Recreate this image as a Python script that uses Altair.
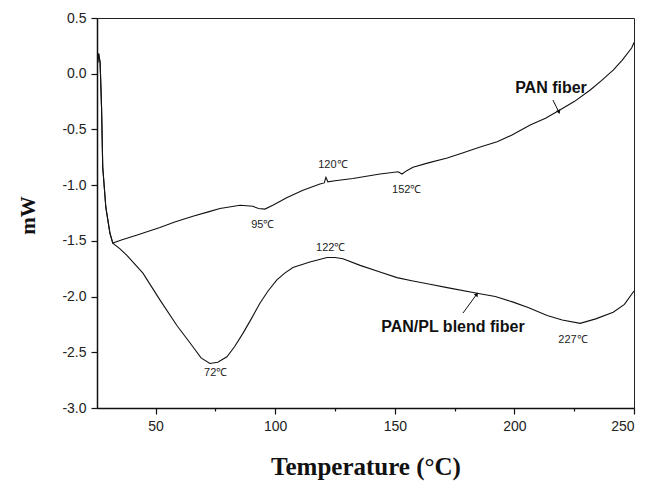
import altair as alt
import pandas as pd

# ---- PAN fiber curve (Temperature °C, mW) ----
pan_x = [25.8, 26.2, 26.8, 27.4, 27.9, 29.2, 30.9, 32.1, 36, 42, 51.8, 58, 65.6, 72, 76.9,
         85.3, 90.7, 93, 95.7, 99, 105, 111.6, 118.7, 120.5, 121.2, 122, 125, 132.5,
         143.8, 151.4, 153, 155, 157.6, 164, 171.9, 178.6, 185.7, 192.8, 199, 206.6,
         213, 219, 225, 231.7, 236.5, 241.3, 245, 249, 250]
pan_y = [0.10, 0.18, 0.10, -0.30, -0.84, -1.20, -1.43, -1.52, -1.49, -1.45, -1.38, -1.33,
         -1.28, -1.24, -1.21, -1.18, -1.19, -1.21, -1.215, -1.18, -1.11, -1.045, -0.99,
         -0.98, -0.93, -0.97, -0.96, -0.94, -0.90, -0.88, -0.90, -0.87, -0.84, -0.80,
         -0.757, -0.71, -0.658, -0.61, -0.55, -0.46, -0.40, -0.326, -0.25, -0.146,
         -0.06, 0.033, 0.12, 0.23, 0.28]

# ---- PAN/PL blend fiber curve ----
blend_x = [25.8, 26.2, 26.8, 27.4, 27.9, 29.2, 30.9, 32.1, 35, 38, 44.7, 51.8, 58.9, 65.6,
           69, 72.7, 76, 79.8, 83, 86.5, 90, 93.6, 97, 100.7, 104, 107.4, 114.5, 121.7,
           125, 128.3, 135.5, 143.8, 150.9, 157.6, 164.7, 171.9, 184.4, 192, 199.5, 206,
           213.7, 220, 227.5, 234, 241.3, 246, 250]
blend_y = [0.10, 0.18, 0.10, -0.30, -0.84, -1.20, -1.43, -1.52, -1.57, -1.63, -1.79, -2.03,
           -2.26, -2.45, -2.55, -2.60, -2.59, -2.54, -2.45, -2.33, -2.20, -2.06, -1.95,
           -1.85, -1.79, -1.74, -1.69, -1.65, -1.65, -1.66, -1.72, -1.78, -1.83, -1.86,
           -1.89, -1.92, -1.97, -2.00, -2.05, -2.10, -2.17, -2.21, -2.24, -2.20, -2.14,
           -2.07, -1.95]

# ---- temperature labels ----
label_text = ["95℃", "120℃", "122℃", "152℃", "72℃", "227℃"]
label_x = [94.8, 124.1, 123.2, 155.0, 75.1, 224.5]
label_y = [-1.358, -0.82, -1.565, -1.044, -2.687, -2.39]

# ---- series names ----
name_text = ["PAN fiber", "PAN/PL blend fiber"]
name_x = [215.3, 174.3]
name_y = [-0.128, -2.27]

# ---- arrows (start -> head on curve) ----
arrow_x = [216.1, 178.5]
arrow_y = [-0.236, -2.148]
arrow_x2 = [218.6, 184.3]
arrow_y2 = [-0.344, -1.978]
arrow_angle = [158, 36]

x_ticks = [50, 75, 100, 125, 150, 175, 200, 225, 250]
y_ticks = [-3.0 + 0.25 * i for i in range(15)]

curves = pd.concat([
    pd.DataFrame({"T": pan_x, "mW": pan_y, "series": "PAN fiber"}),
    pd.DataFrame({"T": blend_x, "mW": blend_y, "series": "PAN/PL blend fiber"}),
])
labels = pd.DataFrame({"text": label_text, "T": label_x, "mW": label_y})
names = pd.DataFrame({"text": name_text, "T": name_x, "mW": name_y})
arrows = pd.DataFrame({"T": arrow_x, "mW": arrow_y, "T2": arrow_x2, "mW2": arrow_y2,
                       "angle": arrow_angle})

xscale = alt.Scale(domain=[25.5, 250], nice=False, zero=False)
yscale = alt.Scale(domain=[-3.0, 0.5], nice=False, zero=False)

xaxis = alt.Axis(
    values=x_ticks, grid=False, title="Temperature (°C)",
    labelExpr="datum.value % 50 === 0 ? datum.label : ''",
    tickSize={"condition": {"test": "datum.value % 50 === 0", "value": 6}, "value": 3},
    labelPadding=5, labelFontSize=14, labelFont="Liberation Sans", labelColor="#222",
    titleFont="Liberation Serif", titleFontSize=25, titleFontWeight="bold",
    titleBaseline="middle", titleY=58, titleColor="#111",
    domainColor="#111", domainWidth=1.5, tickColor="#111", tickWidth=1.2,
)
yaxis = alt.Axis(
    values=y_ticks, grid=False, title="mW", format=".1f",
    labelExpr="abs(datum.value*2 - round(datum.value*2)) < 0.001 ? replace(datum.label, '\u2212', '-') : ''",
    tickSize={"condition": {"test": "abs(datum.value*2 - round(datum.value*2)) < 0.001", "value": 6}, "value": 3},
    labelPadding=5, labelFontSize=14, labelFont="Liberation Sans", labelColor="#222",
    titleFont="Liberation Serif", titleFontSize=21, titleFontWeight="bold",
    titleAngle=270, titleBaseline="middle", titleAlign="center",
    titleX=-69, titleY=197, titleColor="#111",
    domainColor="#111", domainWidth=1.5, tickColor="#111", tickWidth=1.2,
)

lines = alt.Chart(curves).mark_line(color="#111", strokeWidth=1.1).encode(
    x=alt.X("T:Q", scale=xscale, axis=xaxis),
    y=alt.Y("mW:Q", scale=yscale, axis=yaxis),
    detail="series:N",
    order=alt.Order("T:Q"),
)

temp_text = alt.Chart(labels).mark_text(
    font="Liberation Sans", fontSize=11, color="#222"
).encode(x=alt.X("T:Q", scale=xscale), y=alt.Y("mW:Q", scale=yscale), text="text:N")

name_marks = alt.Chart(names).mark_text(
    font="Liberation Sans", fontSize=16, fontWeight="bold", color="#111"
).encode(x=alt.X("T:Q", scale=xscale), y=alt.Y("mW:Q", scale=yscale), text="text:N")

arrow_lines = alt.Chart(arrows).mark_rule(color="#111", strokeWidth=1).encode(
    x=alt.X("T:Q", scale=xscale), y=alt.Y("mW:Q", scale=yscale),
    x2="T2:Q", y2="mW2:Q",
)
arrow_heads = alt.Chart(arrows).mark_point(
    shape="triangle-up", filled=True, color="#111", size=22, opacity=1
).encode(
    x=alt.X("T2:Q", scale=xscale), y=alt.Y("mW2:Q", scale=yscale),
    angle=alt.Angle("angle:Q", scale=None),
)

chart = alt.layer(lines, temp_text, name_marks, arrow_lines, arrow_heads).properties(
    width=537, height=390,
    autosize=alt.AutoSizeParams(type="none"),
    padding={"left": 89, "top": 10, "right": 6, "bottom": 78},
    background="white",
).configure_view(stroke="#222", strokeWidth=1)

chart.save("out.html", embed_options={"renderer": "svg", "actions": False})
